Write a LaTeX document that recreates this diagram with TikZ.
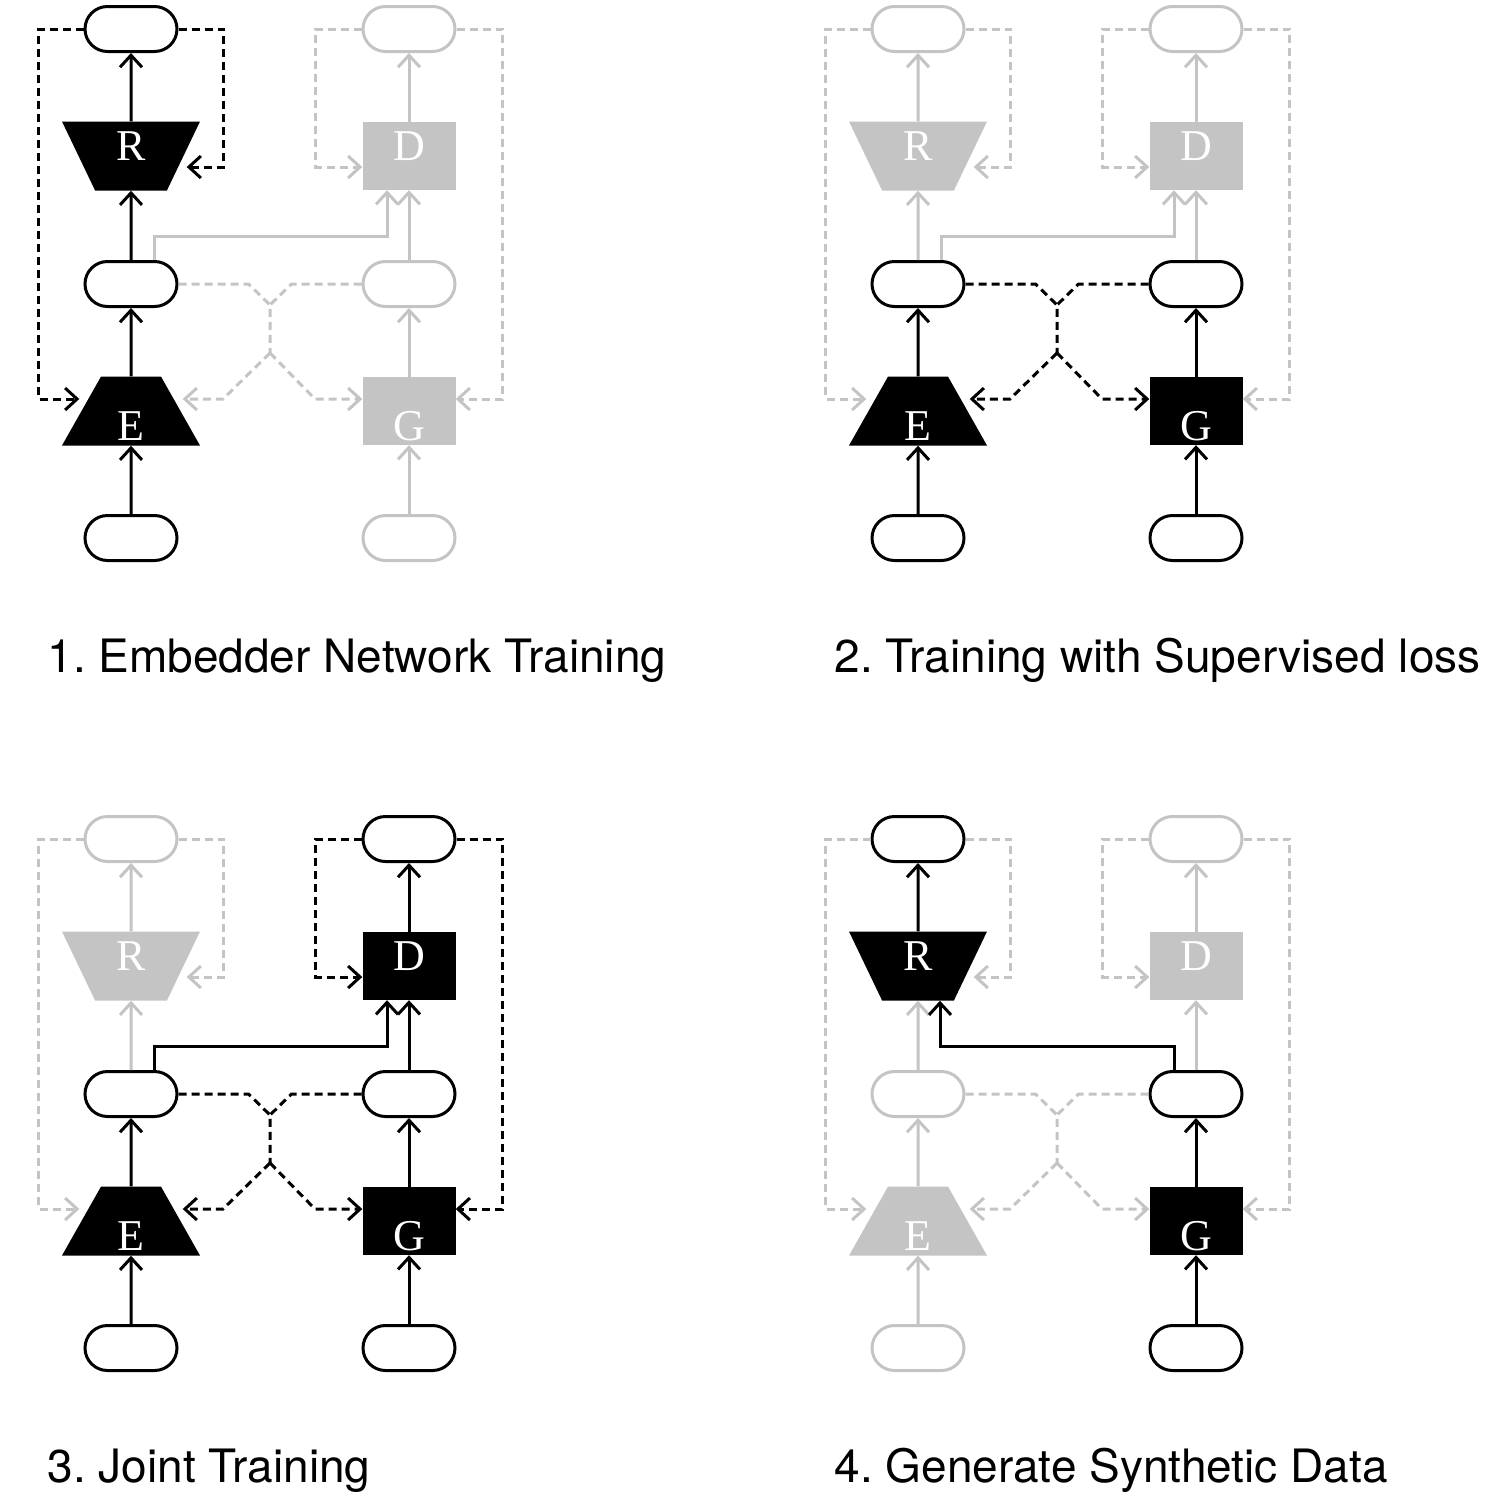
\documentclass[tikz,border=0pt]{standalone}
\usepackage{fontspec}
\usepackage{tikz}
\usetikzlibrary{positioning, arrows.meta, shapes.geometric, shapes.misc}
\newfontfamily\capfont{TeX Gyre Heros}
\newfontfamily\netfont{Liberation Serif}
\definecolor{lgray}{RGB}{196,196,196}
\frenchspacing

\tikzset{
    on/.style={color=black},
    off/.style={color=lgray},
    % states, gray unless a panel switches them on
    sE/.style={off}, sG/.style={off}, sR/.style={off}, sD/.style={off},
    sRec/.style={off}, sSup/.style={off},
    pill/.style={rounded rectangle, draw, fill=white, line width=3pt,
        minimum width=92pt, minimum height=45pt, inner sep=0pt},
    trap/.style={trapezium, trapezium angle=56.5, trapezium stretches body,
        fill, text=white, minimum width=138pt, minimum height=69pt,
        inner sep=0pt, font=\netfont\fontsize{44}{44}\selectfont},
    netbox/.style={rectangle, fill, text=white, minimum width=93pt,
        minimum height=68pt, inner sep=0pt, font=\netfont\fontsize{44}{44}\selectfont},
    hightext/.style={text height=29pt, text depth=21pt},
    lowtext/.style={text height=59pt, text depth=0pt},
    link/.style={line width=3pt, -{Straight Barb[length=12pt, width=22pt]}},
    loss/.style={link, dash pattern=on 8pt off 5pt},
    caption/.style={anchor=base west, font=\capfont\fontsize{46}{54}\selectfont},
}

\newcommand{\drawnet}[1]{%
    % Define nodes
    \node[sE, pill] (xin#1) at (131,538) {};
    \node[sG, pill] (zin#1) at (409,538) {};
    \node[sE, trap, lowtext] (E#1) at (131,411) {E};
    \node[sG, netbox, lowtext] (G#1) at (409,411) {G};
    \node[sE, pill] (hE#1) at (131,284) {};
    \node[sG, pill] (hG#1) at (409,284) {};
    \node[sR, trap, shape border rotate=180, hightext] (R#1) at (131,156) {R};
    \node[sD, netbox, hightext] (D#1) at (409,156) {D};
    \node[sR, pill] (xout#1) at (131,29) {};
    \node[sD, pill] (yout#1) at (409,29) {};
    \coordinate (jtop#1) at (270,305);
    \coordinate (jbot#1) at (270,353);

    % Draw arrows
    \draw[link, sE] (xin#1.north) -- (E#1.south);
    \draw[link, sE] (E#1.north) -- (hE#1.south);
    \draw[link, sRec] (hE#1.north) -- (R#1.south);
    \draw[link, sR] (R#1.north) -- (xout#1.south);
    \draw[link, sG] (zin#1.north) -- (G#1.south);
    \draw[link, sG] (G#1.north) -- (hG#1.south);
    \draw[link, sD] (hG#1.north) -- (D#1.south);
    \draw[link, sD] (D#1.north) -- (yout#1.south);

    % Losses
    \draw[loss, sRec] (xout#1.west) -- ++(-45,0) |- ([xshift=-2pt, yshift=12pt]E#1.west);
    \draw[loss, sRec] (xout#1.east) -- ++(45,0) |- ([xshift=3pt, yshift=-11pt]R#1.east);
    \draw[loss, sD] (yout#1.west) -- ++(-46,0) |- ([yshift=-11pt]D#1.west);
    \draw[loss, sD] (yout#1.east) -- ++(46,0) |- ([yshift=12pt]G#1.east);
    \draw[loss, sSup, -] (hE#1.east) -- ++(70,0) -- (jtop#1) -- (jbot#1);
    \draw[loss, sSup, -] (hG#1.west) -- ++(-70,0) -- (jtop#1);
    \draw[loss, sSup] (jbot#1) -- ++(-47,46) -- ([xshift=2pt, yshift=12pt]E#1.east);
    \draw[loss, sSup] (jbot#1) -- ++(45,46) -- ([yshift=12pt]G#1.west);
}

\begin{document}
\begin{tikzpicture}[x=1pt, y=-1pt]
    \useasboundingbox (0,0) rectangle (1502,1505);

    % 1. embedder
    \begin{scope}[sE/.style={on}, sR/.style={on}, sRec/.style={on}]
        \drawnet{a}
        \draw[link, sD] ([xshift=23pt]hEa.north) -- ++(0,-24) -| ([xshift=-22pt]Da.south);
    \end{scope}

    % 2. supervised
    \begin{scope}[shift={(787,0)}, sE/.style={on}, sG/.style={on}, sSup/.style={on}]
        \drawnet{b}
        \draw[link, sD] ([xshift=23pt]hEb.north) -- ++(0,-24) -| ([xshift=-22pt]Db.south);
    \end{scope}

    % 3. joint
    \begin{scope}[shift={(0,810)}, sE/.style={on}, sG/.style={on}, sD/.style={on}, sSup/.style={on}]
        \drawnet{c}
        \draw[link, sD] ([xshift=23pt]hEc.north) -- ++(0,-24) -| ([xshift=-22pt]Dc.south);
    \end{scope}

    % 4. generation
    \begin{scope}[shift={(787,810)}, sG/.style={on}, sR/.style={on}]
        \drawnet{d}
        \draw[link, on] ([xshift=-22pt]hGd.north) -- ++(0,-24) -| ([xshift=22pt]Rd.south);
    \end{scope}

    % Captions
    \node[caption] (cap1) at (44,672) {1. Embedder Network Training};
    \node[caption] (cap2) at (831,672) {2. Training with Supervised loss};
    \node[caption] (cap3) at (44,1482) {3. Joint Training};
    \node[caption] (cap4) at (831,1482) {4. Generate Synthetic Data};
\end{tikzpicture}
\end{document}
